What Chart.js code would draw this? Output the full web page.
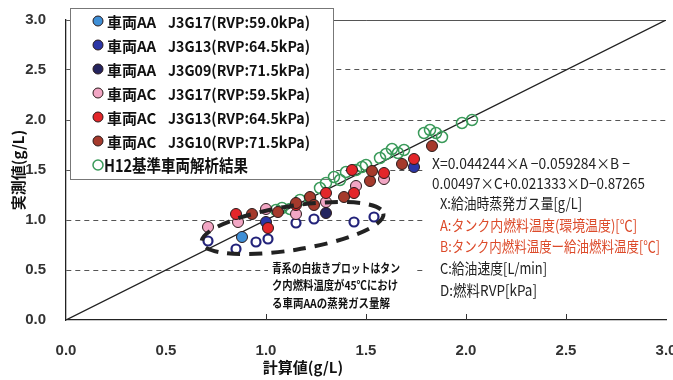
<!DOCTYPE html>
<html>
<head>
<meta charset="utf-8">
<script src="https://cdn.jsdelivr.net/npm/chart.js@4.4.1/dist/chart.umd.min.js"></script>
<style>
  html, body { margin: 0; padding: 0; background: #fff; }
  #wrap { width: 673px; height: 380px; }
</style>
</head>
<body>
<div id="wrap"><canvas id="chart" width="673" height="380"></canvas></div>
<script>
// axis ticks (g/L)
const tickVals = [0, 0.5, 1.0, 1.5, 2.0, 2.5, 3.0];
const innerTickVals = [1.0, 1.5, 2.0, 2.5];

// 1:1 line
const diagX = [0, 3];
const diagY = [0, 3];

// measured vs calculated, [calc, measured]
const aaJ3G17 = [[0.88, 0.83]];
const aaJ3G13 = [[1.00, 0.98], [1.74, 1.53]];
const aaJ3G09 = [[1.30, 1.07]];
const acJ3G17 = [[0.71, 0.93], [0.86, 0.98], [1.00, 1.11], [1.15, 1.06], [1.30, 1.18], [1.45, 1.34], [1.59, 1.41]];
const acJ3G13 = [[0.85, 1.06], [1.01, 0.92], [1.15, 1.15], [1.30, 1.27], [1.44, 1.27], [1.43, 1.50], [1.59, 1.47], [1.74, 1.61]];
const acJ3G10 = [[0.93, 1.06], [1.06, 1.08], [1.15, 1.17], [1.22, 1.23], [1.24, 1.15], [1.39, 1.23], [1.52, 1.39], [1.53, 1.49], [1.68, 1.56], [1.83, 1.74]];
// open blue rings: vehicle AA at 45°C
const aa45 = [[0.71, 0.79], [0.85, 0.71], [0.95, 0.78], [1.01, 0.81], [1.15, 0.97], [1.24, 1.01], [1.44, 0.98], [1.54, 1.03]];
const h12 = [[1.05, 1.10], [1.08, 1.12], [1.12, 1.11], [1.17, 1.20], [1.22, 1.22], [1.27, 1.32], [1.30, 1.37], [1.34, 1.43],
  [1.37, 1.40], [1.40, 1.48], [1.45, 1.50], [1.48, 1.53], [1.50, 1.55], [1.57, 1.62], [1.60, 1.66], [1.63, 1.71],
  [1.66, 1.67], [1.69, 1.70], [1.79, 1.87], [1.82, 1.90], [1.85, 1.87], [1.88, 1.83], [1.98, 1.97], [2.03, 2.00]];

// legend
const legendNames = ['車両AA', '車両AA', '車両AA', '車両AC', '車両AC', '車両AC', 'H12基準車両解析結果'];
const legendSpecs = ['J3G17(RVP:59.0kPa)', 'J3G13(RVP:64.5kPa)', 'J3G09(RVP:71.5kPa)', 'J3G17(RVP:59.5kPa)',
  'J3G13(RVP:64.5kPa)', 'J3G10(RVP:71.5kPa)', ''];
const legendColors = ['#3f8fd6', '#2c36a6', '#24245e', '#f2a6c4', '#e3262a', '#a53a2c', null];

const formulaLines = [
  'X=0.044244×A −0.059284×B −',
  '0.00497×C+0.021333×D−0.87265',
  'X:給油時蒸発ガス量[g/L]',
  'A:タンク内燃料温度(環境温度)[℃]',
  'B:タンク内燃料温度ー給油燃料温度[℃]',
  'C:給油速度[L/min]',
  'D:燃料RVP[kPa]'
];
const noteLines = ['青系の白抜きプロットはタン', 'ク内燃料温度が45℃におけ', 'る車両AAの蒸発ガス量解'];

const pts = a => a.map(p => ({ x: p[0], y: p[1] }));

function dots(label, data, fill, order) {
  return {
    type: 'scatter', label, data: pts(data), order,
    backgroundColor: fill, borderColor: '#2a1a1a', borderWidth: 1,
    pointRadius: 5.5, pointHoverRadius: 5.5
  };
}

const deco = {
  id: 'deco',
  beforeDatasetsDraw(chart) {
    const c = chart.ctx;
    c.save();
    c.fillStyle = '#fff';
    c.fillRect(268, 258, 146, 56);   // note
    c.fillRect(425, 150, 248, 150);  // formula
    c.fillRect(70, 8, 263, 171);     // legend
    c.strokeStyle = '#777';
    c.lineWidth = 1;
    c.strokeRect(70.5, 8.5, 263, 171);
    c.restore();
  },
  afterDatasetsDraw(chart) {
    const c = chart.ctx;
    const xs = chart.scales.x, ys = chart.scales.y;
    c.save();
    // small inner ticks on x axis
    c.strokeStyle = '#333';
    c.lineWidth = 1;
    innerTickVals.forEach(v => {
      const px = Math.round(xs.getPixelForValue(v)) + 0.5;
      c.beginPath();
      c.moveTo(px, ys.bottom);
      c.lineTo(px, ys.bottom - 6);
      c.stroke();
    });
    // dashed ellipse around the open blue rings
    c.strokeStyle = '#222';
    c.lineWidth = 4;
    c.setLineDash([13, 9]);
    c.beginPath();
    c.ellipse(xs.getPixelForValue(1.133), ys.getPixelForValue(0.92), 92, 22, -9 * Math.PI / 180, 0, Math.PI * 2);
    c.stroke();
    c.setLineDash([]);

    // legend entries
    c.textBaseline = 'middle';
    c.textAlign = 'left';
    legendNames.forEach((name, i) => {
      const y = 21 + 24 * i;
      c.beginPath();
      c.arc(98, y, 5, 0, Math.PI * 2);
      if (legendColors[i]) {
        c.fillStyle = legendColors[i];
        c.fill();
        c.strokeStyle = '#2a1a1a';
        c.lineWidth = 1;
      } else {
        c.strokeStyle = '#3a9a5a';
        c.lineWidth = 1.5;
      }
      c.stroke();
      c.fillStyle = '#111';
      if (legendSpecs[i]) {
        c.font = 'bold 15px "Noto Sans CJK JP"';
        c.fillText(name, 107, y + 1, 50);
        c.fillText(legendSpecs[i], 168, y + 1, 142);
      } else {
        c.font = 'bold 17px "Noto Sans CJK JP"';
        c.fillText(name, 104, y + 1, 144);
      }
    });

    // formula block
    const fx = [432, 432, 440, 440, 440, 440, 440];
    const fy = [163, 183, 203, 225, 246, 268, 290];
    const fw = [198, 213, 142, 197, 220, 107, 97];
    c.font = '15px "Noto Sans CJK JP"';
    formulaLines.forEach((t, i) => {
      c.fillStyle = (i === 3 || i === 4) ? '#dc4a2a' : '#222';
      c.fillText(t, fx[i], fy[i], fw[i]);
    });

    // note text
    c.fillStyle = '#111';
    c.font = 'bold 12px "Noto Sans CJK JP"';
    const nw = [128, 126, 118];
    noteLines.forEach((t, i) => c.fillText(t, 272, 268 + 17.5 * i, nw[i]));

    // axis titles
    c.font = 'bold 15px "Noto Sans CJK JP"';
    c.textAlign = 'center';
    c.fillText('計算値(g/L)', 303, 367);
    c.translate(18, 170);
    c.rotate(-Math.PI / 2);
    c.fillText('実測値(g/L)', 0, 0);
    c.restore();
  }
};

new Chart(document.getElementById('chart'), {
  data: {
    datasets: [
      {
        type: 'line', label: '1:1', order: 10,
        data: diagX.map((x, i) => ({ x, y: diagY[i] })),
        borderColor: '#222', borderWidth: 1.3, pointRadius: 0, fill: false
      },
      {
        type: 'scatter', label: 'H12基準車両解析結果', data: pts(h12), order: 9,
        backgroundColor: 'rgba(0,0,0,0)', borderColor: '#3a9a5a', borderWidth: 1.5, pointRadius: 5.5
      },
      {
        type: 'scatter', label: 'AA 45℃', data: pts(aa45), order: 8,
        backgroundColor: '#fff', borderColor: '#23237a', borderWidth: 2.2, pointRadius: 4.5
      },
      dots('車両AC J3G17', acJ3G17, legendColors[3], 7),
      dots('車両AA J3G17', aaJ3G17, legendColors[0], 6),
      dots('車両AA J3G13', aaJ3G13, legendColors[1], 5),
      dots('車両AA J3G09', aaJ3G09, legendColors[2], 4),
      dots('車両AC J3G13', acJ3G13, legendColors[4], 3),
      dots('車両AC J3G10', acJ3G10, legendColors[5], 2)
    ]
  },
  options: {
    responsive: false,
    animation: false,
    layout: { padding: { left: 0, right: 6, top: 20, bottom: 0 } },
    plugins: { legend: { display: false }, tooltip: { enabled: false } },
    scales: {
      x: {
        type: 'linear', min: 0, max: 3,
        afterBuildTicks: s => { s.ticks = tickVals.map(v => ({ value: v })); },
        ticks: {
          callback: v => v.toFixed(1), color: '#333', padding: 14,
          font: { family: '"Liberation Sans Narrow", "Liberation Sans"', size: 15, weight: 'bold' }
        },
        grid: { display: false },
        border: { color: '#222', width: 1.3 },
        afterFit: s => { s.height = 60; s.paddingLeft = 0; s.paddingRight = 0; }
      },
      y: {
        type: 'linear', min: 0, max: 3,
        afterBuildTicks: s => { s.ticks = tickVals.map(v => ({ value: v })); },
        ticks: {
          callback: v => v.toFixed(1), color: '#333', padding: 20,
          font: { family: '"Liberation Sans Narrow", "Liberation Sans"', size: 15, weight: 'bold' }
        },
        grid: {
          drawTicks: false, lineWidth: 1,
          color: ctx => (ctx.tick && ctx.tick.value === 0) ? 'rgba(0,0,0,0)' : '#555'
        },
        border: {
          color: '#222', width: 1.3,
          dash: ctx => (ctx.tick && ctx.tick.value === 3) ? [] : [5, 4]
        },
        afterFit: s => { s.width = 66; s.paddingTop = 0; s.paddingBottom = 0; }
      }
    }
  },
  plugins: [deco]
});
</script>
</body>
</html>
